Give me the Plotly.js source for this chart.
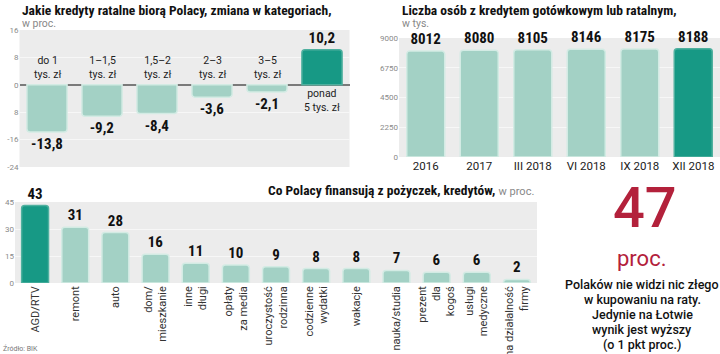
<!DOCTYPE html>
<html><head><meta charset="utf-8">
<script src="https://cdn.plot.ly/plotly-3.0.1.min.js"></script>
<style>html,body{margin:0;padding:0;background:#fff;}
#chart .bartext { font-stretch: condensed; }
</style>
</head><body><div id="chart" style="width:720px;height:354px;"></div>
<script>
// ---- data ----
const rangeCats = ['do 1<br>tys. zł','1–1,5<br>tys. zł','1,5–2<br>tys. zł','2–3<br>tys. zł','3–5<br>tys. zł','ponad<br>5 tys. zł'];
const rangeChange = [-13.8, -9.2, -8.4, -3.6, -2.1, 10.2];
const changeTickVals = [16, 8, 0, -8, -16, -24];
const changeTickText = ['16', '8', '0', '8', '-16', '-24'];

const periods = ['2016', '2017', 'III 2018', 'VI 2018', 'IX 2018', 'XII 2018'];
const borrowers = [8012, 8080, 8105, 8146, 8175, 8188];
const borrowerTickVals = [0, 2250, 4500, 6750, 9000];

const purposes = ['AGD/RTV','remont','auto','dom/<br>mieszkanie','inne<br>długi','opłaty<br>za media','uroczystość<br>rodzinna','codzienne<br>wydatki','wakacje','nauka/studia','prezent<br>dla<br>kogoś','usługi<br>medyczne','na działalność<br>firmy'];
const purposeShares = [43, 31, 28, 16, 11, 10, 9, 8, 8, 7, 6, 6, 2];
const purposeTickVals = [0, 15, 30, 45];

const calloutNumber = '47';
const calloutUnit = 'proc.';
const calloutLines = ['Polaków nie widzi nic złego', 'w kupowaniu na raty.', 'Jedynie na Łotwie', 'wynik jest wyższy', '(o 1 pkt proc.)'];

// ---- styles ----
const LIGHT = '#a3d1c5', LIGHT_EDGE = '#d3ebe4', DARK = '#179985', DARK_EDGE = '#4fb09f';
const RED = '#b3213b';
const SANS = 'Roboto, Liberation Sans, sans-serif';
const W = 720, H = 354;
const px = v => v / W, py = v => 1 - v / H;
const cond = s => '<span style="font-stretch:condensed"><b>' + s + '</b></span>';

function colorsFor(n, hi) { return Array.from({length: n}, (_, i) => i === hi ? DARK : LIGHT); }
function edgesFor(n, hi) { return Array.from({length: n}, (_, i) => i === hi ? DARK_EDGE : LIGHT_EDGE); }

const valFont = {family: SANS, size: 15, color: '#111', weight: 'bold'};

const traces = [
  {type: 'bar', x: rangeCats, y: rangeChange, xaxis: 'x', yaxis: 'y', width: 0.73,
   marker: {color: colorsFor(6, 5), line: {color: edgesFor(6, 5), width: 1.5}, cornerradius: 3},
   text: rangeChange.map(v => v.toFixed(1).replace('.', ',')), textposition: 'outside',
   textfont: valFont, constraintext: 'none', cliponaxis: false, hoverinfo: 'none'},
  {type: 'bar', x: periods, y: borrowers, xaxis: 'x2', yaxis: 'y2', width: 0.71,
   marker: {color: colorsFor(6, 5), line: {color: edgesFor(6, 5), width: 1.5}, cornerradius: 3},
   text: borrowers.map(String), textposition: 'outside',
   textfont: valFont, constraintext: 'none', cliponaxis: false, hoverinfo: 'none'},
  {type: 'bar', x: purposes, y: purposeShares, xaxis: 'x3', yaxis: 'y3', width: 0.67,
   marker: {color: colorsFor(13, 0), line: {color: edgesFor(13, 0), width: 1.5}, cornerradius: 3},
   text: purposeShares.map(String), textposition: 'outside',
   textfont: valFont, constraintext: 'none', cliponaxis: false, hoverinfo: 'none'}
];

const tickFont = {family: SANS, size: 8, color: '#8a8a8a'};
const gridC = '#f7f7f7';

const annotations = [];
// chart 1 category labels
rangeCats.forEach((c, i) => {
  const neg = rangeChange[i] < 0;
  annotations.push({xref: 'x', yref: 'y', x: c, y: 0, text: c, showarrow: false,
    yanchor: neg ? 'bottom' : 'top', yshift: neg ? 2 : 0,
    font: {family: SANS, size: 10.5, color: '#222'}});
});
// titles
annotations.push({xref: 'paper', yref: 'paper', x: px(20), y: py(10), xanchor: 'left', yanchor: 'middle', showarrow: false,
  text: cond('Jakie kredyty ratalne biorą Polacy, zmiana w kategoriach,'), font: {family: SANS, size: 13.5, color: '#111'}});
annotations.push({xref: 'paper', yref: 'paper', x: px(20), y: py(23), xanchor: 'left', yanchor: 'middle', showarrow: false,
  text: 'w proc.', font: {family: SANS, size: 10.5, color: '#888'}});
annotations.push({xref: 'paper', yref: 'paper', x: px(400), y: py(10), xanchor: 'left', yanchor: 'middle', showarrow: false,
  text: cond('Liczba osób z kredytem gotówkowym lub ratalnym,'), font: {family: SANS, size: 13.5, color: '#111'}});
annotations.push({xref: 'paper', yref: 'paper', x: px(400), y: py(23), xanchor: 'left', yanchor: 'middle', showarrow: false,
  text: 'w tys.', font: {family: SANS, size: 10.5, color: '#888'}});
annotations.push({xref: 'paper', yref: 'paper', x: px(401), y: py(190), xanchor: 'center', yanchor: 'middle', showarrow: false,
  text: cond('Co Polacy finansują z pożyczek, kredytów,') + ' <span style="color:#888;font-size:11px">w proc.</span>',
  font: {family: SANS, size: 13.5, color: '#111'}});
// callout
annotations.push({xref: 'paper', yref: 'paper', x: px(645), y: py(208), xanchor: 'center', yanchor: 'middle', showarrow: false,
  text: calloutNumber, font: {family: SANS, size: 56, color: RED, weight: 500}});
annotations.push({xref: 'paper', yref: 'paper', x: px(641), y: py(258), xanchor: 'center', yanchor: 'middle', showarrow: false,
  text: calloutUnit, font: {family: SANS, size: 22, color: RED}});
calloutLines.forEach((t, i) => {
  annotations.push({xref: 'paper', yref: 'paper', x: px(642), y: py(284 + i * 15), xanchor: 'center', yanchor: 'middle', showarrow: false,
    text: t, font: {family: SANS, size: 12.5, color: '#111', weight: 500}});
});
annotations.push({xref: 'paper', yref: 'paper', x: px(1), y: py(348), xanchor: 'left', yanchor: 'middle', showarrow: false,
  text: 'Źródło: BIK', font: {family: SANS, size: 7, color: '#777'}});

const layout = {
  width: W, height: H, margin: {l: 0, r: 0, t: 0, b: 0},
  paper_bgcolor: '#ffffff', plot_bgcolor: '#ececec', showlegend: false, bargap: 0.27,
  font: {family: SANS},
  xaxis: {domain: [px(19.5), px(349.5)], type: 'category', showticklabels: false, showgrid: false, zeroline: false, fixedrange: true},
  yaxis: {domain: [py(167), py(30)], range: [-24, 16], tickvals: changeTickVals, ticktext: changeTickText,
          tickfont: tickFont, showgrid: true, gridcolor: gridC, zeroline: true, zerolinecolor: '#7a7a7a', zerolinewidth: 2, ticks: ''},
  xaxis2: {domain: [px(399), px(720)], type: 'category', anchor: 'y2', tickfont: {family: SANS, size: 11.5, color: '#222'},
           showgrid: false, zeroline: false, ticks: ''},
  yaxis2: {domain: [py(157), py(38)], range: [0, 9000], anchor: 'x2', tickvals: borrowerTickVals, tickfont: tickFont,
           showgrid: true, gridcolor: gridC, zeroline: false, ticks: ''},
  xaxis3: {domain: [px(15), px(537)], type: 'category', anchor: 'y3', tickangle: -90,
           tickfont: {family: SANS, size: 11, color: '#333'}, showgrid: false, zeroline: false, ticks: ''},
  yaxis3: {domain: [py(283), py(202)], range: [0, 45], anchor: 'x3', tickvals: purposeTickVals, tickfont: tickFont,
           showgrid: true, gridcolor: gridC, zeroline: false, ticks: ''},
  annotations: annotations
};

Plotly.newPlot('chart', traces, layout, {displayModeBar: false, staticPlot: true});
</script></body></html>
